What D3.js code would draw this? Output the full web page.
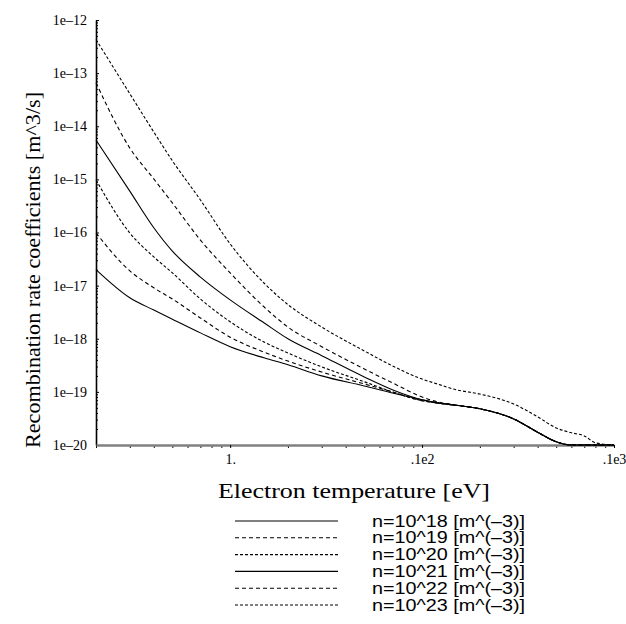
<!DOCTYPE html>
<html>
<head>
<meta charset="utf-8">
<script src="https://cdn.jsdelivr.net/npm/d3@7/dist/d3.min.js"></script>
<style>
body { margin: 0; background: #fff; }
</style>
</head>
<body>
<svg id="chart" width="626" height="624"></svg>
<script>
// electron temperature grid [eV]
const temperatures = [0.2, 0.3, 0.4, 0.5, 0.7, 1, 1.5, 2, 3, 5, 7, 10, 12, 15, 20, 30, 40, 50, 60, 70, 80, 100];

// recombination rate coefficients [m^3/s], one list per density
const rate18 = [2.0e-17, 5.9e-18, 3.47e-18, 2.34e-18, 1.29e-18, 7.1e-19, 4.37e-19, 3.24e-19, 2.0e-19, 1.29e-19, 9.5e-20, 7.1e-20, 6.2e-20, 5.6e-20, 4.8e-20, 3.1e-20, 1.74e-20, 1.15e-20, 5e-21, 2e-21, 1e-21, 4e-22];
const rate19 = [9.8e-17, 1.9e-17, 9.1e-18, 5.6e-18, 2.46e-18, 1.07e-18, 5.6e-19, 3.8e-19, 2.36e-19, 1.41e-19, 1.0e-19, 6.8e-20, 6.2e-20, 5.6e-20, 4.8e-20, 3.1e-20, 1.74e-20, 1.15e-20, 5e-21, 2e-21, 1e-21, 4e-22];
const rate20 = [9.8e-16, 9.8e-17, 3.47e-17, 1.74e-17, 5.6e-18, 2.09e-18, 8.7e-19, 5.4e-19, 2.95e-19, 1.55e-19, 1.0e-19, 6.8e-20, 6.2e-20, 5.6e-20, 4.8e-20, 3.1e-20, 1.74e-20, 1.15e-20, 5e-21, 2e-21, 1e-21, 4e-22];
const rate21 = [5.5e-15, 6.0e-16, 1.23e-16, 4.47e-17, 1.45e-17, 5.4e-18, 2.0e-18, 1.0e-18, 4.8e-19, 1.91e-19, 1.1e-19, 7.1e-20, 6.2e-20, 5.6e-20, 4.8e-20, 3.1e-20, 1.74e-20, 1.15e-20, 5e-21, 2e-21, 1e-21, 4e-22];
const rate22 = [6.6e-14, 3.9e-15, 1.02e-15, 3.6e-16, 7.2e-17, 1.74e-17, 4.0e-18, 1.66e-18, 7.1e-19, 2.7e-19, 1.48e-19, 8.0e-20, 6.5e-20, 5.6e-20, 4.8e-20, 3.1e-20, 1.74e-20, 1.15e-20, 5e-21, 2e-21, 1e-21, 4e-22];
const rate23 = [4.3e-13, 4.1e-14, 7.8e-15, 2.24e-15, 4.1e-16, 6.1e-17, 1.12e-17, 4.4e-18, 1.66e-18, 5.9e-19, 3.1e-19, 1.74e-19, 1.41e-19, 1.1e-19, 9.1e-20, 5.9e-20, 3.4e-20, 2.09e-20, 1.7e-20, 1.48e-20, 1.1e-20, 4e-21];

const legendLabels = ["n=10^18 [m^(\u20133)]", "n=10^19 [m^(\u20133)]", "n=10^20 [m^(\u20133)]",
    "n=10^21 [m^(\u20133)]", "n=10^22 [m^(\u20133)]", "n=10^23 [m^(\u20133)]"];

const xTickValues = [1, 10, 100];
const xTickLabels = ["1.", ".1e2", ".1e3"];
const yTickValues = [1e-20, 1e-19, 1e-18, 1e-17, 1e-16, 1e-15, 1e-14, 1e-13, 1e-12];

const series = [rate18, rate19, rate20, rate21, rate22, rate23];
const dashes = [null, "4,3", "3,2", null, "4,3", "3,2"];

const c_left = 96, c_right = 614, c_top = 20, c_bottom = 445;

var svg = d3.select("#chart");

var x = d3.scaleLog().domain([0.2, 100]).range([c_left, c_right]);
var y = d3.scaleLog().domain([1e-20, 1e-12]).range([c_bottom, c_top]).clamp(true);

// minor ticks
var xMinor = [];
[0.1, 1, 10].forEach(function (base) {
    for (let k = 2; k <= 9; k++) {
        var v = base * k;
        if (v >= 0.2 && v < 100 && v != 1 && v != 10) xMinor.push(v);
    }
});
var yMinor = [];
yTickValues.slice(0, -1).forEach(function (base) {
    for (let k = 2; k <= 9; k++) yMinor.push(base * k);
});

svg.append("g")
    .attr("transform", "translate(0," + c_bottom + ")")
    .call(d3.axisBottom(x).tickValues(xMinor).tickSize(3).tickFormat(""))
    .call(g => g.select(".domain").remove());

svg.append("g")
    .attr("transform", "translate(" + c_left + ",0)")
    .call(d3.axisLeft(y).tickValues(yMinor).tickSizeInner(-2).tickSizeOuter(0).tickFormat(""))
    .call(g => g.select(".domain").remove());

var yAxis = svg.append("g")
    .attr("transform", "translate(" + c_left + ",0)")
    .call(d3.axisLeft(y).tickValues(yTickValues).tickSizeInner(-3).tickSizeOuter(0).tickPadding(9)
        .tickFormat(function (d) { return "1e\u2013" + Math.round(-Math.log10(d)); }));
yAxis.select(".domain").attr("stroke-width", 1.6);

var xAxis = svg.append("g")
    .attr("transform", "translate(0," + c_bottom + ")")
    .call(d3.axisBottom(x).tickValues(xTickValues).tickSizeInner(3).tickSizeOuter(0).tickPadding(6)
        .tickFormat(function (d, i) { return xTickLabels[i]; }));
xAxis.select(".domain").attr("stroke", "#808080").attr("stroke-width", 2.5);

svg.selectAll(".tick text")
    .attr("font-family", "'Liberation Serif', 'Times New Roman', serif")
    .attr("font-size", 14)
    .attr("fill", "#000");

// curves
var line = d3.line()
    .x(function (d) { return x(d[0]); })
    .y(function (d) { return y(d[1]); })
    .curve(d3.curveMonotoneX);

series.forEach(function (values, i) {
    svg.append("path")
        .attr("d", line(temperatures.map(function (t, j) { return [t, values[j]]; })))
        .attr("fill", "none")
        .attr("stroke", "#000")
        .attr("stroke-width", 1.1)
        .attr("stroke-dasharray", dashes[i]);
});

// axis titles
svg.append("text")
    .attr("x", 354)
    .attr("y", 498)
    .attr("text-anchor", "middle")
    .attr("font-family", "'Liberation Serif', 'Times New Roman', serif")
    .attr("font-size", 21)
    .attr("textLength", 272)
    .attr("lengthAdjust", "spacingAndGlyphs")
    .text("Electron temperature [eV]");

svg.append("text")
    .attr("transform", "translate(40,270) rotate(-90)")
    .attr("text-anchor", "middle")
    .attr("font-family", "'Liberation Serif', 'Times New Roman', serif")
    .attr("font-size", 21)
    .attr("textLength", 356)
    .attr("lengthAdjust", "spacingAndGlyphs")
    .text("Recombination rate coefficients [m^3/s]");

// legend
var legend = svg.append("g");
legendLabels.forEach(function (label, i) {
    var ly = 521 + i * 16.8;
    legend.append("line")
        .attr("x1", 235).attr("x2", 338)
        .attr("y1", ly).attr("y2", ly)
        .attr("stroke", "#000")
        .attr("stroke-width", 1.1)
        .attr("stroke-dasharray", dashes[i]);
    legend.append("text")
        .attr("x", 372)
        .attr("y", ly + 5.5)
        .attr("font-family", "'Liberation Sans', Arial, sans-serif")
        .attr("font-size", 16)
        .attr("textLength", 153)
        .attr("lengthAdjust", "spacingAndGlyphs")
        .text(label);
});
</script>
</body>
</html>
